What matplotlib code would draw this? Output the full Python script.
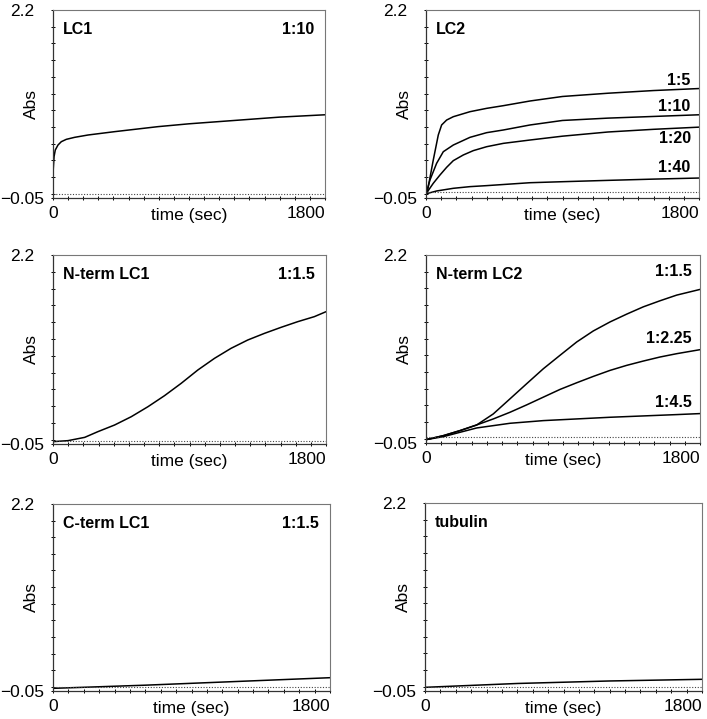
import matplotlib
matplotlib.use("Agg")
import matplotlib.pyplot as plt
import numpy as np

plt.rcParams['font.family'] = ['Liberation Sans', 'DejaVu Sans']

# time points (s) and absorbance
t_lc1 = [0, 2, 7, 15, 33, 55, 88, 143, 232, 408, 695, 900, 1200, 1500, 1800]
lc1_10 = [0.22, 0.305, 0.445, 0.524, 0.584, 0.624, 0.652, 0.676, 0.704, 0.744, 0.804,
          0.838, 0.878, 0.918, 0.946]

t_lc2_5 = [0, 9, 48, 81, 103, 136, 180, 290, 400, 510, 686, 900, 1200, 1500, 1800]
lc2_5 = [0.0, 0.026, 0.405, 0.704, 0.824, 0.883, 0.923, 0.983, 1.023, 1.055, 1.111,
         1.165, 1.204, 1.236, 1.26]
t_lc2 = [0, 26, 70, 114, 180, 290, 400, 510, 686, 900, 1200, 1500, 1800]
lc2_10 = [0.0, 0.165, 0.365, 0.504, 0.584, 0.676, 0.732, 0.764, 0.824, 0.878, 0.906, 0.926, 0.946]
t_lc2_20 = [0, 48, 92, 136, 180, 246, 312, 400, 510, 686, 900, 1200, 1500, 1800]
lc2_20 = [0.0, 0.126, 0.225, 0.317, 0.397, 0.465, 0.517, 0.564, 0.604, 0.644, 0.69,
          0.74, 0.772, 0.798]
t_lc2_40 = [0, 70, 180, 290, 400, 686, 900, 1200, 1500, 1800]
lc2_40 = [0.0, 0.034, 0.066, 0.086, 0.098, 0.133, 0.145, 0.161, 0.176, 0.189]

t_nlc1 = [0, 99, 209, 296, 406, 516, 626, 735, 845, 955, 1065, 1174, 1284, 1394,
          1504, 1613, 1723, 1800]
nlc1_15 = [-0.022, -0.01, 0.029, 0.097, 0.176, 0.275, 0.394, 0.525, 0.672, 0.831, 0.97,
           1.089, 1.188, 1.267, 1.339, 1.406, 1.466, 1.525]

t_nlc2 = [0, 114, 223, 333, 442, 552, 661, 771, 880, 990, 1099, 1209, 1318, 1428,
          1537, 1647, 1800]
nlc2_15 = [-0.01, 0.038, 0.098, 0.166, 0.298, 0.479, 0.659, 0.839, 0.999, 1.159, 1.291,
           1.399, 1.492, 1.58, 1.652, 1.72, 1.788]
nlc2_225 = [-0.01, 0.038, 0.098, 0.166, 0.238, 0.318, 0.406, 0.499, 0.591, 0.671, 0.747,
            0.819, 0.879, 0.931, 0.979, 1.019, 1.067]
t_nlc2_45 = [0, 114, 223, 333, 552, 771, 990, 1209, 1428, 1647, 1800]
nlc2_45 = [-0.01, 0.026, 0.078, 0.13, 0.186, 0.218, 0.238, 0.258, 0.274, 0.29, 0.302]

t_flat = [0, 600, 1200, 1800]
clc1_15 = [-0.018, 0.02, 0.065, 0.11]
tub = [-0.006, 0.04, 0.07, 0.09]

baselines = [0.0, 0.02, -0.02, 0.025, 0.002, 0.0]

titles = ["LC1", "LC2", "N-term LC1", "N-term LC2", "C-term LC1", "tubulin"]
ratios = ["1:10", "", "1:1.5", "", "1:1.5", ""]

panels = [
    [(t_lc1, lc1_10)],
    [(t_lc2_5, lc2_5), (t_lc2, lc2_10), (t_lc2_20, lc2_20), (t_lc2_40, lc2_40)],
    [(t_nlc1, nlc1_15)],
    [(t_nlc2, nlc2_15), (t_nlc2, nlc2_225), (t_nlc2_45, nlc2_45)],
    [(t_flat, clc1_15)],
    [(t_flat, tub)],
]

# curve labels at the right side of the multi-curve panels
curve_labels = {
    1: [("1:5", 1.36), ("1:10", 1.045), ("1:20", 0.665), ("1:40", 0.31)],
    3: [("1:1.5", 2.0), ("1:2.25", 1.2), ("1:4.5", 0.44)],
}

W, H = 707, 719
boxes = [
    (53, 10, 272, 188), (426, 10, 273, 188),
    (53, 255, 273, 189), (426, 255, 274, 188),
    (53, 504, 277, 187), (425, 503, 277, 188),
]

fig = plt.figure(figsize=(W / 100, H / 100), dpi=100)

for i, (x0, y0, w, h) in enumerate(boxes):
    ax = fig.add_axes([x0 / W, 1 - (y0 + h) / H, w / W, h / H])
    for t, v in panels[i]:
        ax.plot(t, v, color='black', lw=1.1, solid_joinstyle='round')
    ax.axhline(baselines[i], color='#444444', lw=0.8, linestyle=(0, (1, 1.5)))
    ax.set_xlim(0, 1800)
    ax.set_ylim(-0.05, 2.2)

    ax.set_yticks([-0.05, 2.2])
    ax.set_yticklabels(["\u22120.05", "2.2"], ha='center')
    ax.set_yticks(np.arange(0, 2.21, 0.2), minor=True)
    ax.set_xticks([0, 1800])
    ax.set_xticklabels(["0", "1800"])
    ax.set_xticks(np.arange(0, 1801, 100), minor=True)
    ax.tick_params(axis='y', which='both', direction='inout', length=3, width=0.7,
                   labelsize=12.5, pad=21)
    ax.tick_params(axis='x', which='both', direction='inout', length=3, width=0.7,
                   labelsize=12.5, pad=4)
    for lab in ax.get_xticklabels():
        if lab.get_text() == "1800":
            lab.set_ha('right')

    ax.set_xlabel("time (sec)", fontsize=12.5)
    ax.xaxis.set_label_coords(0.5, -0.055)
    ax.set_ylabel("Abs", fontsize=12.5)
    ax.yaxis.set_label_coords(-0.05, 0.5)

    for side in ['left', 'bottom']:
        ax.spines[side].set_color('#333333')
        ax.spines[side].set_linewidth(0.9)
    for side in ['top', 'right']:
        ax.spines[side].set_color('#777777')
        ax.spines[side].set_linewidth(0.8)

    ax.text(0.037, 0.895, titles[i], transform=ax.transAxes, fontsize=11.5,
            fontweight='bold', ha='left', va='center')
    if ratios[i]:
        ax.text(0.96, 0.895, ratios[i], transform=ax.transAxes, fontsize=11.5,
                fontweight='bold', ha='right', va='center')
    for txt, yv in curve_labels.get(i, []):
        ax.text(1745, yv, txt, fontsize=11.5, fontweight='bold', ha='right', va='center')

fig.savefig("out.png", dpi=100)
